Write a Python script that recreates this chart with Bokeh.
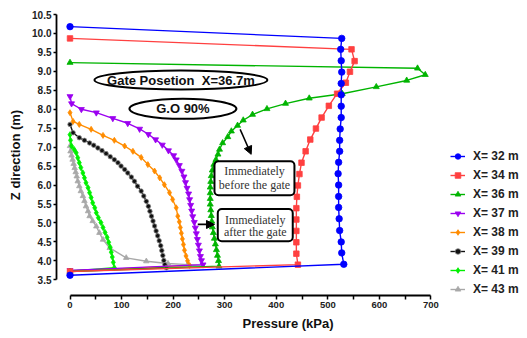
from bokeh.plotting import figure
from bokeh.models import (Legend, LegendItem, FixedTicker, Arrow, NormalHead,
                          BoxAnnotation, Range1d, Label, NumeralTickFormatter)
from bokeh.embed import file_html
from bokeh.resources import INLINE

# ---------------- data (Pressure kPa, Z m) ----------------
P32 = [0, 527, 525, 526, 527, 526, 526, 526, 526, 524, 523, 523, 521, 520, 521, 521, 521, 522, 523, 526, 527, 531, 0]
Z32 = [10.18, 9.87, 9.58, 9.28, 8.98, 8.68, 8.38, 8.08, 7.78, 7.48, 7.18, 6.89, 6.60, 6.30, 6.00, 5.70, 5.41, 5.11, 4.80, 4.50, 4.21, 3.91, 3.62]

P34 = [0, 546, 552, 543, 535, 518, 502, 488, 477, 466, 457, 449, 445, 442, 440, 439, 439, 439, 439, 439, 442, 0]
Z34 = [9.87, 9.58, 9.27, 8.99, 8.70, 8.41, 8.09, 7.78, 7.49, 7.20, 6.89, 6.59, 6.29, 5.99, 5.69, 5.39, 5.09, 4.79, 4.49, 4.19, 3.90, 3.72]

P36 = [0, 674, 689, 653, 594, 528, 464, 418, 382, 354, 336, 325, 313, 306, 296, 290, 287, 283, 279, 276,
       274, 273, 272, 272, 272, 272, 273, 274, 275, 276, 278, 280, 282, 284, 286, 288, 289, 0]
Z36 = [9.23, 9.08, 8.91, 8.76, 8.59, 8.41, 8.29, 8.15, 8.01, 7.86, 7.71, 7.57, 7.42, 7.27, 7.11, 6.94, 6.81, 6.67, 6.54, 6.39,
       6.24, 6.09, 5.94, 5.79, 5.64, 5.49, 5.34, 5.19, 5.04, 4.89, 4.74, 4.59, 4.44, 4.29, 4.14, 4.00, 3.86, 3.72]

P37 = [0, 3, 22, 51, 83, 112, 135, 152, 166, 179, 191, 201, 206, 212, 217, 221, 224, 227, 230, 232,
       234, 236, 238, 241, 243, 245, 247, 249, 251, 253, 255, 258, 0]
Z37 = [8.34, 8.15, 8.00, 7.91, 7.76, 7.63, 7.48, 7.34, 7.20, 7.06, 6.91, 6.78, 6.67, 6.52, 6.37, 6.22, 6.07, 5.92, 5.77, 5.62,
       5.47, 5.32, 5.17, 5.02, 4.87, 4.72, 4.57, 4.42, 4.27, 4.12, 4.01, 3.90, 3.75]

P38 = [0, 6, 18, 41, 64, 86, 106, 122, 138, 151, 164, 174, 183, 193, 199, 206, 209, 212, 214, 216,
       218, 220, 222, 225, 228, 232, 0]
Z38 = [7.91, 7.68, 7.60, 7.47, 7.31, 7.18, 7.03, 6.89, 6.73, 6.54, 6.37, 6.19, 6.01, 5.80, 5.62, 5.40, 5.18, 5.03, 4.88, 4.73,
       4.58, 4.43, 4.28, 4.13, 4.00, 3.88, 3.73]

P39 = [0, 6, 18, 28, 38, 46, 54, 62, 70, 78, 86, 93, 99, 106, 112, 119, 125, 131, 138, 143,
       148, 152, 155, 158, 161, 164, 167, 170, 173, 176, 178, 180, 182, 184, 187, 0]
Z39 = [7.60, 7.38, 7.25, 7.18, 7.11, 7.05, 6.98, 6.91, 6.83, 6.75, 6.67, 6.59, 6.50, 6.41, 6.32, 6.21, 6.10, 5.97, 5.84, 5.71,
       5.57, 5.44, 5.31, 5.18, 5.05, 4.92, 4.79, 4.66, 4.53, 4.40, 4.27, 4.14, 4.01, 3.90, 3.82, 3.74]

P41 = [0, 1, 3, 8, 12, 15, 18, 21, 25, 28, 31, 35, 38, 41, 44, 48, 51, 55, 60, 64,
       68, 72, 75, 78, 80, 82, 84, 86, 0]
Z41 = [7.33, 7.18, 7.03, 6.94, 6.85, 6.72, 6.59, 6.46, 6.32, 6.19, 6.06, 5.93, 5.80, 5.67, 5.53, 5.40, 5.27, 5.14, 5.01, 4.88,
       4.75, 4.62, 4.49, 4.36, 4.23, 4.10, 3.96, 3.82, 3.73]

P43 = [0, 1, 3, 5, 7, 9, 11, 13, 15, 18, 21, 25, 28, 31, 35, 38, 44, 51, 57, 64,
       77, 109, 148, 190, 228, 257, 0]
Z43 = [7.03, 6.89, 6.78, 6.67, 6.56, 6.45, 6.34, 6.23, 6.10, 5.97, 5.84, 5.71, 5.58, 5.44, 5.31, 5.18, 5.05, 4.91, 4.74, 4.56,
       4.34, 4.08, 3.99, 3.93, 3.90, 3.87, 3.72]

labels = ["X= 32 m", "X= 34 m", "X= 36 m", "X= 37 m", "X= 38 m", "X= 39 m", "X= 41 m", "X= 43 m"]
series_p = [P32, P34, P36, P37, P38, P39, P41, P43]
series_z = [Z32, Z34, Z36, Z37, Z38, Z39, Z41, Z43]

x_ticks = [0, 100, 200, 300, 400, 500, 600, 700]
x_minor = [50, 150, 250, 350, 450, 550, 650]
y_ticks = [3.5, 4.0, 4.5, 5.0, 5.5, 6.0, 6.5, 7.0, 7.5, 8.0, 8.5, 9.0, 9.5, 10.0, 10.5]

# ---------------- styles ----------------
colors = ["#0000FF", "#FF4040", "#00B400", "#9B00F0", "#FF8C00", "#111111", "#00F000", "#A8A8A8"]
markers = ["circle", "square", "triangle", "inverted_triangle", "diamond", "circle", "diamond", "triangle"]
msizes = [6.5, 5.5, 6, 6, 6, 4.5, 6, 5.5]
mline = ["#0000FF", "#FF4040", "#00B400", "#9B00F0", "#FF8C00", "#888888", "#00F000", "#A8A8A8"]

FONT = "Liberation Sans"

p = figure(frame_width=463, frame_height=281,
           min_border_left=56, min_border_right=4, min_border_top=14, min_border_bottom=40,
           x_range=Range1d(-26.2, 871.8), y_range=Range1d(3.086, 10.5),
           output_backend="svg", toolbar_location=None)
p.outline_line_color = None
p.grid.visible = False
p.background_fill_color = "white"
p.border_fill_color = "white"

# axes
p.xaxis.ticker = FixedTicker(ticks=x_ticks, minor_ticks=x_minor)
p.yaxis.ticker = FixedTicker(ticks=y_ticks)
p.yaxis.formatter = NumeralTickFormatter(format="0.0")
p.xaxis.bounds = (0, 700)
p.yaxis.bounds = (3.5, 10.5)
for ax in (p.xaxis, p.yaxis):
    ax.axis_line_width = 1.8
    ax.axis_line_color = "black"
    ax.major_tick_line_color = "black"
    ax.major_tick_line_width = 1.5
    ax.minor_tick_line_color = "black"
    ax.minor_tick_line_width = 1.5
    ax.major_tick_in = 0
    ax.minor_tick_in = 0
    ax.major_label_text_font = FONT
    ax.major_label_text_font_style = "bold"
    ax.major_label_text_color = "#222222"
    ax.axis_label_text_font = FONT
    ax.axis_label_text_font_style = "bold"
    ax.axis_label_text_font_size = "13px"
    ax.axis_label_text_color = "#111111"
p.xaxis.major_tick_out = 4
p.xaxis.minor_tick_out = 4
p.yaxis.major_tick_out = 3
p.yaxis.minor_tick_out = 0
p.xaxis.major_label_text_font_size = "9.5px"
p.yaxis.major_label_text_font_size = "10px"
p.xaxis.major_label_standoff = 2
p.yaxis.major_label_standoff = 2
p.xaxis.axis_label_standoff = 5
p.yaxis.axis_label_standoff = 6
p.xaxis.axis_label = "Pressure (kPa)"
p.yaxis.axis_label = "Z direction (m)"

# series (draw last legend entry first so X=32 sits on top)
items = []
renderers = {}
for i in reversed(range(len(labels))):
    lr = p.line(series_p[i], series_z[i], line_color=colors[i], line_width=1.4)
    sr = p.scatter(series_p[i], series_z[i], marker=markers[i], size=msizes[i],
                   fill_color=colors[i], line_color=mline[i], line_width=0.8)
    renderers[i] = [lr, sr]
for i in range(len(labels)):
    items.append(LegendItem(label=labels[i], renderers=renderers[i]))

legend = Legend(items=items, location=(394, -1), orientation="vertical")
legend.border_line_color = None
legend.background_fill_alpha = 0
legend.padding = 0
legend.margin = 0
legend.spacing = 5
legend.glyph_height = 14
legend.glyph_width = 15
legend.label_height = 14
legend.label_standoff = 8
legend.label_text_font = FONT
legend.label_text_font_style = "bold"
legend.label_text_font_size = "12px"
legend.label_text_color = "#222222"
legend.label_text_baseline = "middle"
p.add_layout(legend)

# annotations: ellipses with titles
p.ellipse(x=[215.2], y=[8.77], width=[173], height=[19], width_units="screen", height_units="screen",
          fill_color=None, line_color="black", line_width=2)
p.ellipse(x=[219.0], y=[8.01], width=[107], height=[20], width_units="screen", height_units="screen",
          fill_color=None, line_color="black", line_width=2)
p.add_layout(Label(x=215.2, y=8.77, text="Gate Posetion\u00a0 X=36.7m", text_align="center", text_baseline="middle",
                   text_font=FONT, text_font_style="bold", text_font_size="13px", text_color="#111111"))
p.add_layout(Label(x=219.0, y=8.01, text="G.O 90%", text_align="center", text_baseline="middle",
                   text_font=FONT, text_font_style="bold", text_font_size="13px", text_color="#111111"))

# boxes
for (l, r, t, b) in [(280.2, 435.3, 6.63, 5.73), (286.6, 432.0, 5.37, 4.52)]:
    p.add_layout(BoxAnnotation(left=l, right=r, top=t, bottom=b, fill_color="white", fill_alpha=1,
                               line_color="black", line_alpha=1, line_width=2, border_radius=4))
SERIF = "Liberation Serif"
for (xx, yy, tt) in [(357.8, 6.37, "Immediately"), (357.8, 6.01, "before the gate"),
                     (359.3, 5.09, "Immediately"), (359.3, 4.76, "after the gate")]:
    p.add_layout(Label(x=xx, y=yy, text=tt, text_align="center", text_baseline="middle",
                       text_font=SERIF, text_font_size="12px", text_color="#333333"))

# arrows
p.add_layout(Arrow(end=NormalHead(size=8, fill_color="black", line_color="black"),
                   x_start=330, y_start=7.47, x_end=351.4, y_end=6.81, line_width=1.5, line_color="black"))
p.add_layout(Arrow(end=NormalHead(size=8, fill_color="black", line_color="black"),
                   x_start=247.8, y_start=4.96, x_end=280.2, y_end=4.96, line_width=1.8, line_color="black"))

open("out.html", "w").write(file_html(p, INLINE))
